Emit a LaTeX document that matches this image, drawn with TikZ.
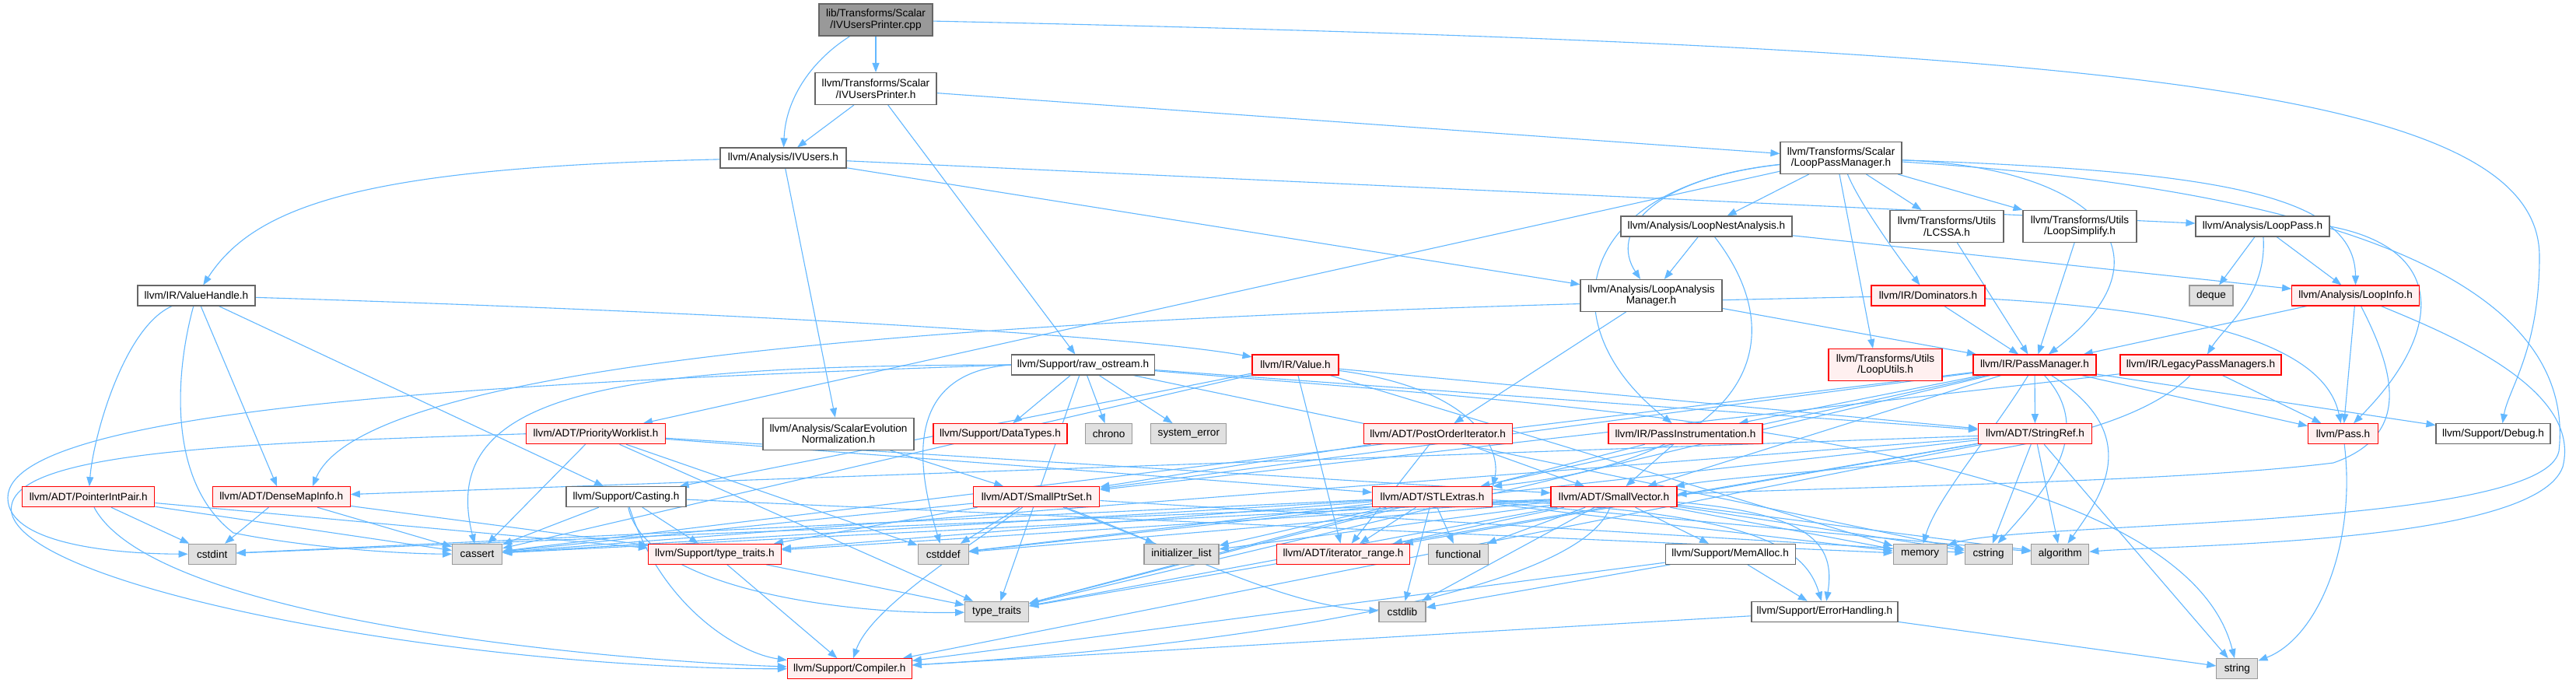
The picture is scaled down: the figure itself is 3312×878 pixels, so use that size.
\documentclass[tikz,border=0pt]{standalone}
\usepackage{fontspec}
\setmainfont{Liberation Sans}
\usetikzlibrary{arrows.meta}
\pgfdeclarelayer{bg}
\pgfdeclarelayer{edges}
\pgfsetlayers{bg,edges,main}
\definecolor{edgec}{HTML}{63B8FF}
\definecolor{redfill}{HTML}{FFF0F0}
\definecolor{grayfill}{HTML}{E0E0E0}
\definecolor{graybd}{HTML}{999999}
\definecolor{darkbd}{HTML}{666666}
\definecolor{cppfill}{HTML}{999999}
\newcommand{\fsz}{\fontsize{13.6pt}{14.7pt}\selectfont}
\tikzset{
  box/.style={draw, line width=1.1pt, minimum height=26pt, inner sep=0pt, font=\fsz, align=center},
  wbox/.style={box, draw=darkbd, fill=white},
  rbox/.style={box, draw=red, fill=redfill},
  gbox/.style={box, draw=graybd, fill=grayfill},
  cbox/.style={box, draw=darkbd, fill=cppfill},
  tall/.style={minimum height=41pt},
  e/.style={draw=edgec, line width=1.1pt, -{Triangle[length=12pt,width=9pt]}}
}
\begin{document}
\begin{tikzpicture}[x=1pt,y=-1pt]
\useasboundingbox (0,0) rectangle (3312,878);
\begin{pgfonlayer}{bg}
\fill[white] (0,0) rectangle (3312,878);
\end{pgfonlayer}
% nodes
\node[cbox, tall, minimum width=146pt] (cpp) at (1126,25.5) {lib/Transforms/Scalar\\/IVUsersPrinter.cpp};
\node[wbox, tall, minimum width=156pt] (ivp) at (1126,114) {llvm/Transforms/Scalar\\/IVUsersPrinter.h};
\node[wbox, minimum width=162pt] (ivu) at (1007,203) {llvm/Analysis/IVUsers.h};
\node[wbox, tall, minimum width=156pt] (lpm) at (2367,203) {llvm/Transforms/Scalar\\/LoopPassManager.h};
\node[wbox, minimum width=220pt] (lna) at (2194,291) {llvm/Analysis/LoopNestAnalysis.h};
\node[wbox, tall, minimum width=146pt] (lcssa) at (2503,291) {llvm/Transforms/Utils\\/LCSSA.h};
\node[wbox, tall, minimum width=146pt] (lsimp) at (2674,291) {llvm/Transforms/Utils\\/LoopSimplify.h};
\node[wbox, minimum width=172pt] (lpass) at (2909,291) {llvm/Analysis/LoopPass.h};
\node[wbox, minimum width=151pt] (vh) at (252.5,380) {llvm/IR/ValueHandle.h};
\node[wbox, tall, minimum width=182pt] (lam) at (2123,380) {llvm/Analysis/LoopAnalysis\\Manager.h};
\node[rbox, minimum width=146pt] (dom) at (2479,380) {llvm/IR/Dominators.h};
\node[gbox, minimum width=56pt] (deque) at (2843,380) {deque};
\node[rbox, minimum width=164pt] (li) at (3028.6,380) {llvm/Analysis/LoopInfo.h};
\node[wbox, minimum width=184pt] (raw) at (1392.5,469) {llvm/Support/raw\_ostream.h};
\node[rbox, minimum width=111pt] (val) at (1665.5,469) {llvm/IR/Value.h};
\node[rbox, tall, minimum width=146pt] (lu) at (2424,469) {llvm/Transforms/Utils\\/LoopUtils.h};
\node[rbox, minimum width=158pt] (pm) at (2616,469) {llvm/IR/PassManager.h};
\node[rbox, minimum width=207pt] (lpms) at (2829.5,469) {llvm/IR/LegacyPassManagers.h};
\node[rbox, minimum width=179pt] (pw) at (766,557.7) {llvm/ADT/PriorityWorklist.h};
\node[wbox, tall, minimum width=194pt] (sen) at (1078,557.7) {llvm/Analysis/ScalarEvolution\\Normalization.h};
\node[rbox, minimum width=172pt] (dt) at (1286,557.7) {llvm/Support/DataTypes.h};
\node[gbox, minimum width=60pt] (chrono) at (1425.7,557.7) {chrono};
\node[gbox, minimum width=97pt] (syserr) at (1528.4,557.7) {system\_error};
\node[rbox, minimum width=191pt] (poi) at (1848.6,557.7) {llvm/ADT/PostOrderIterator.h};
\node[rbox, minimum width=198pt] (pi) at (2167,557.7) {llvm/IR/PassInstrumentation.h};
\node[rbox, minimum width=146pt] (sr) at (2616.5,557.7) {llvm/ADT/StringRef.h};
\node[rbox, minimum width=90pt] (pass) at (3012.5,557.7) {llvm/Pass.h};
\node[wbox, minimum width=147pt] (dbg) at (3205.5,557.7) {llvm/Support/Debug.h};
\node[rbox, minimum width=170pt] (pip) at (113.8,638.7) {llvm/ADT/PointerIntPair.h};
\node[rbox, minimum width=177pt] (dmi) at (361.8,638.7) {llvm/ADT/DenseMapInfo.h};
\node[wbox, minimum width=154pt] (cast) at (805,638.7) {llvm/Support/Casting.h};
\node[rbox, minimum width=162pt] (sps) at (1332.8,638.7) {llvm/ADT/SmallPtrSet.h};
\node[rbox, minimum width=154pt] (stl) at (1841.6,638.7) {llvm/ADT/STLExtras.h};
\node[rbox, minimum width=162pt] (sv) at (2075,638.7) {llvm/ADT/SmallVector.h};
\node[gbox, minimum width=61pt] (cstdint) at (272.7,712.3) {cstdint};
\node[gbox, minimum width=64pt] (cassert) at (613.6,712.3) {cassert};
\node[rbox, minimum width=171pt] (tth) at (918.9,712.3) {llvm/Support/type\_traits.h};
\node[gbox, minimum width=65pt] (cstddef) at (1212.7,712.3) {cstddef};
\node[gbox, minimum width=96pt] (initl) at (1519,712.3) {initializer\_list};
\node[rbox, minimum width=171pt] (ir) at (1727,712.3) {llvm/ADT/iterator\_range.h};
\node[gbox, minimum width=77pt] (func) at (1875,712.3) {functional};
\node[wbox, minimum width=167pt] (ma) at (2224.6,712.3) {llvm/Support/MemAlloc.h};
\node[gbox, minimum width=69pt] (memory) at (2468.7,712.3) {memory};
\node[gbox, minimum width=61pt] (cstring) at (2556.6,712.3) {cstring};
\node[gbox, minimum width=74pt] (algo) at (2648.8,712.3) {algorithm};
\node[gbox, minimum width=82pt] (tt) at (1281.6,786.3) {type\_traits};
\node[gbox, minimum width=60pt] (cstdlib) at (1803,786.3) {cstdlib};
\node[wbox, minimum width=188pt] (eh) at (2346,786.3) {llvm/Support/ErrorHandling.h};
\node[rbox, minimum width=160pt] (comp) at (1092.3,859.7) {llvm/Support/Compiler.h};
\node[gbox, minimum width=53pt] (string) at (2876.4,859.7) {string};
% edges
\begin{pgfonlayer}{edges}
\draw[e] (cpp) -- (ivp);
\draw[e] (cpp) .. controls (1040,80) and (1010,130) .. (ivu);
\draw[e] (cpp) .. controls (2700,60) and (3265,110) .. (3265,330) .. controls (3265,450) and (3225,500) .. ([xshift=12pt]dbg.north);
\draw[e] (ivp) -- (ivu);
\draw[e] (ivp) -- (lpm);
\draw[e] (ivp) -- (raw);
\draw[e] (ivu) .. controls (480,215) and (330,260) .. (vh);
\draw[e] (ivu) -- (lam);
\draw[e] (ivu) -- (lpass);
\draw[e] (ivu) -- (sen);
\draw[e] (lpm) -- (pw);
\draw[e] (lpm) .. controls (2120,230) and (2070,300) .. (lam);
\draw[e] (lpm) .. controls (2020,240) and (1990,420) .. (pi);
\draw[e] (lpm) .. controls (2850,220) and (3028,250) .. (li);
\draw[e] (lpm) -- (lna);
\draw[e] (lpm) .. controls (2390,260) and (2440,330) .. (dom);
\draw[e] (lpm) .. controls (2700,215) and (2800,330) .. (pm);
\draw[e] (lpm) -- (lcssa);
\draw[e] (lpm) -- (lsimp);
\draw[e] ([xshift=-2pt]lpm.south) -- ([xshift=-16pt]lu.north);
\draw[e] (lpm) .. controls (3100,250) and (3310,400) .. (3290,580) .. controls (3270,680) and (2600,670) .. (memory);
\draw[e] (lna) -- (lam);
\draw[e] (lna) -- (li);
\draw[e] (lna) .. controls (2310,440) and (2250,590) .. (stl.north east);
\draw[e] (lcssa) -- (pm);
\draw[e] (lsimp) -- (pm);
\draw[e] (lpass) -- (deque);
\draw[e] (lpass) -- (li);
\draw[e] (lpass) .. controls (2915,380) and (2860,420) .. (lpms);
\draw[e] (lpass.east) .. controls (3150,320) and (3140,430) .. (pass);
\draw[e] (vh) .. controls (900,400) and (1450,430) .. (val);
\draw[e] (vh) .. controls (160,420) and (120,560) .. (pip);
\draw[e] (vh) -- (dmi);
\draw[e] (vh) -- (cast);
\draw[e] (vh) .. controls (225,480) and (215,620) .. (300,685) .. controls (400,705) and (520,712) .. (cassert);
\draw[e] (lam) -- (poi);
\draw[e] (lam) -- (pm);
\draw[e] (dom) -- (pm);
\draw[e] (dom) .. controls (2850,400) and (2990,450) .. (pass);
\draw[e] (dom) .. controls (1500,400) and (480,440) .. ([xshift=40pt]dmi.north);
\draw[e] (li) -- (pm);
\draw[e] (li) -- (pass);
\draw[e] (li) .. controls (3080,480) and (3100,560) .. (3000,595) .. controls (2800,620) and (2400,625) .. (sv);
\draw[e] (li) .. controls (3150,430) and (3320,500) .. (3295,600) .. controls (3260,700) and (2800,700) .. (algo);
\draw[e] (raw) -- (sr);
\draw[e] (raw) -- (dt);
\draw[e] (raw) -- (chrono);
\draw[e] (raw) -- (syserr);
\draw[e] (raw.west) .. controls (800,470) and (560,500) .. (cassert);
\draw[e] (raw.west) .. controls (1150,480) and (1185,620) .. (cstddef);
\draw[e] (raw.west) .. controls (700,490) and (10,520) .. (10,640) .. controls (10,700) and (150,712) .. (cstdint);
\draw[e] (raw) -- (cstring);
\draw[e] (raw) .. controls (2000,520) and (2800,560) .. (string);
\draw[e] (raw) -- (tt);
\draw[e] (val) .. controls (1900,500) and (1930,580) .. (stl.north east);
\draw[e] (val) -- (sr);
\draw[e] (val) -- (ir);
\draw[e] (val) -- (cast);
\draw[e] (val) -- (cassert);
\draw[e] (val) -- (memory);
\draw[e] (pm) -- (pi);
\draw[e] (pm) -- (sr);
\draw[e] (pm) -- (stl);
\draw[e] (pm) -- (sps);
\draw[e] (pm) -- (sv);
\draw[e] (pm) -- (pass);
\draw[e] (pm) -- (dbg);
\draw[e] (pm) -- (cassert);
\draw[e] (pm) .. controls (2700,560) and (2620,640) .. (cstring);
\draw[e] (pm) .. controls (2560,560) and (2490,640) .. (memory);
\draw[e] (pm) -- (tt);
\draw[e] (pm) .. controls (2760,560) and (2700,640) .. (algo);
\draw[e] (lpms) -- (pass);
\draw[e] (lpms) -- (sps);
\draw[e] (lpms) .. controls (2700,600) and (2300,600) .. (sv);
\draw[e] (pw) -- (stl);
\draw[e] (pw) -- (sv);
\draw[e] (pw.west) .. controls (300,570) and (0,580) .. (15,660) .. controls (40,760) and (600,860) .. (comp);
\draw[e] (pw) -- (cassert);
\draw[e] (pw) -- (cstddef);
\draw[e] (pw) -- (tt);
\draw[e] (sen) -- (sps);
\draw[e] (poi) -- (sps);
\draw[e] (poi) -- (sv);
\draw[e] (poi) -- (ir);
\draw[e] (pi) -- (sv);
\draw[e] (pi) -- (tt);
\draw[e] (sr) -- (dmi);
\draw[e] (sr) -- (ir);
\draw[e] (sr) -- (comp);
\draw[e] (sr) -- (algo);
\draw[e] (sr) -- (cassert);
\draw[e] (sr) -- (cstddef);
\draw[e] (sr) -- (cstring);
\draw[e] (sr) -- (string);
\draw[e] (sr) -- (tt);
\draw[e] (pass) .. controls (3030,700) and (2980,820) .. (string);
\draw[e] (pip) .. controls (200,800) and (800,850) .. (comp);
\draw[e] (pip) -- (cstdint);
\draw[e] (pip) -- (cassert);
\draw[e] (pip) -- (tth);
\draw[e] (dmi) -- (cstdint);
\draw[e] (dmi) -- (cassert);
\draw[e] (dmi) -- (tth);
\draw[e] (cast) -- (cassert);
\draw[e] (cast) -- (tth);
\draw[e] (cast) .. controls (850,780) and (950,840) .. (comp);
\draw[e] (cast) .. controls (830,760) and (1100,790) .. (tt);
\draw[e] (cast) -- (memory);
\draw[e] (sps) .. controls (1250,700) and (1120,780) .. (comp);
\draw[e] (sps) -- (tth);
\draw[e] (sps) -- (cstddef);
\draw[e] (sps) -- (initl);
\draw[e] (sps) .. controls (1500,700) and (1650,780) .. (cstdlib);
\draw[e] (sps) -- (cassert);
\draw[e] (sps) -- (cstring);
\draw[e] (stl) -- (ir);
\draw[e] (stl) -- (func);
\draw[e] (stl) .. controls (2250,660) and (2320,700) .. (eh);
\draw[e] (stl) -- (algo);
\draw[e] (stl) -- (cassert);
\draw[e] (stl) -- (cstddef);
\draw[e] (stl) -- (cstdint);
\draw[e] (stl) -- (cstdlib);
\draw[e] (stl) -- (initl);
\draw[e] (stl) -- (memory);
\draw[e] (stl) -- (tt);
\draw[e] (stl) -- (tth);
\draw[e] (sv) .. controls (2030,760) and (1600,830) .. (comp);
\draw[e] (sv) -- (tth);
\draw[e] (sv) -- (ir);
\draw[e] (sv) -- (func);
\draw[e] (sv) -- (ma);
\draw[e] (sv) .. controls (2330,660) and (2360,700) .. (eh);
\draw[e] (sv) -- (memory);
\draw[e] (sv) -- (cstring);
\draw[e] (sv) -- (algo);
\draw[e] (sv) -- (cassert);
\draw[e] (sv) -- (cstddef);
\draw[e] (sv) -- (initl);
\draw[e] (sv) -- (tt);
\draw[e] (sv) -- (cstdlib);
\draw[e] (sv) -- (cstdint);
\draw[e] (ma) -- (comp);
\draw[e] (ma) -- (eh);
\draw[e] (ma) -- (cstdlib);
\draw[e] (eh) -- (comp);
\draw[e] (eh) -- (string);
\draw[e] (tth) -- (tt);
\draw[e] (tth) -- (comp);
\end{pgfonlayer}
\end{tikzpicture}
\end{document}
